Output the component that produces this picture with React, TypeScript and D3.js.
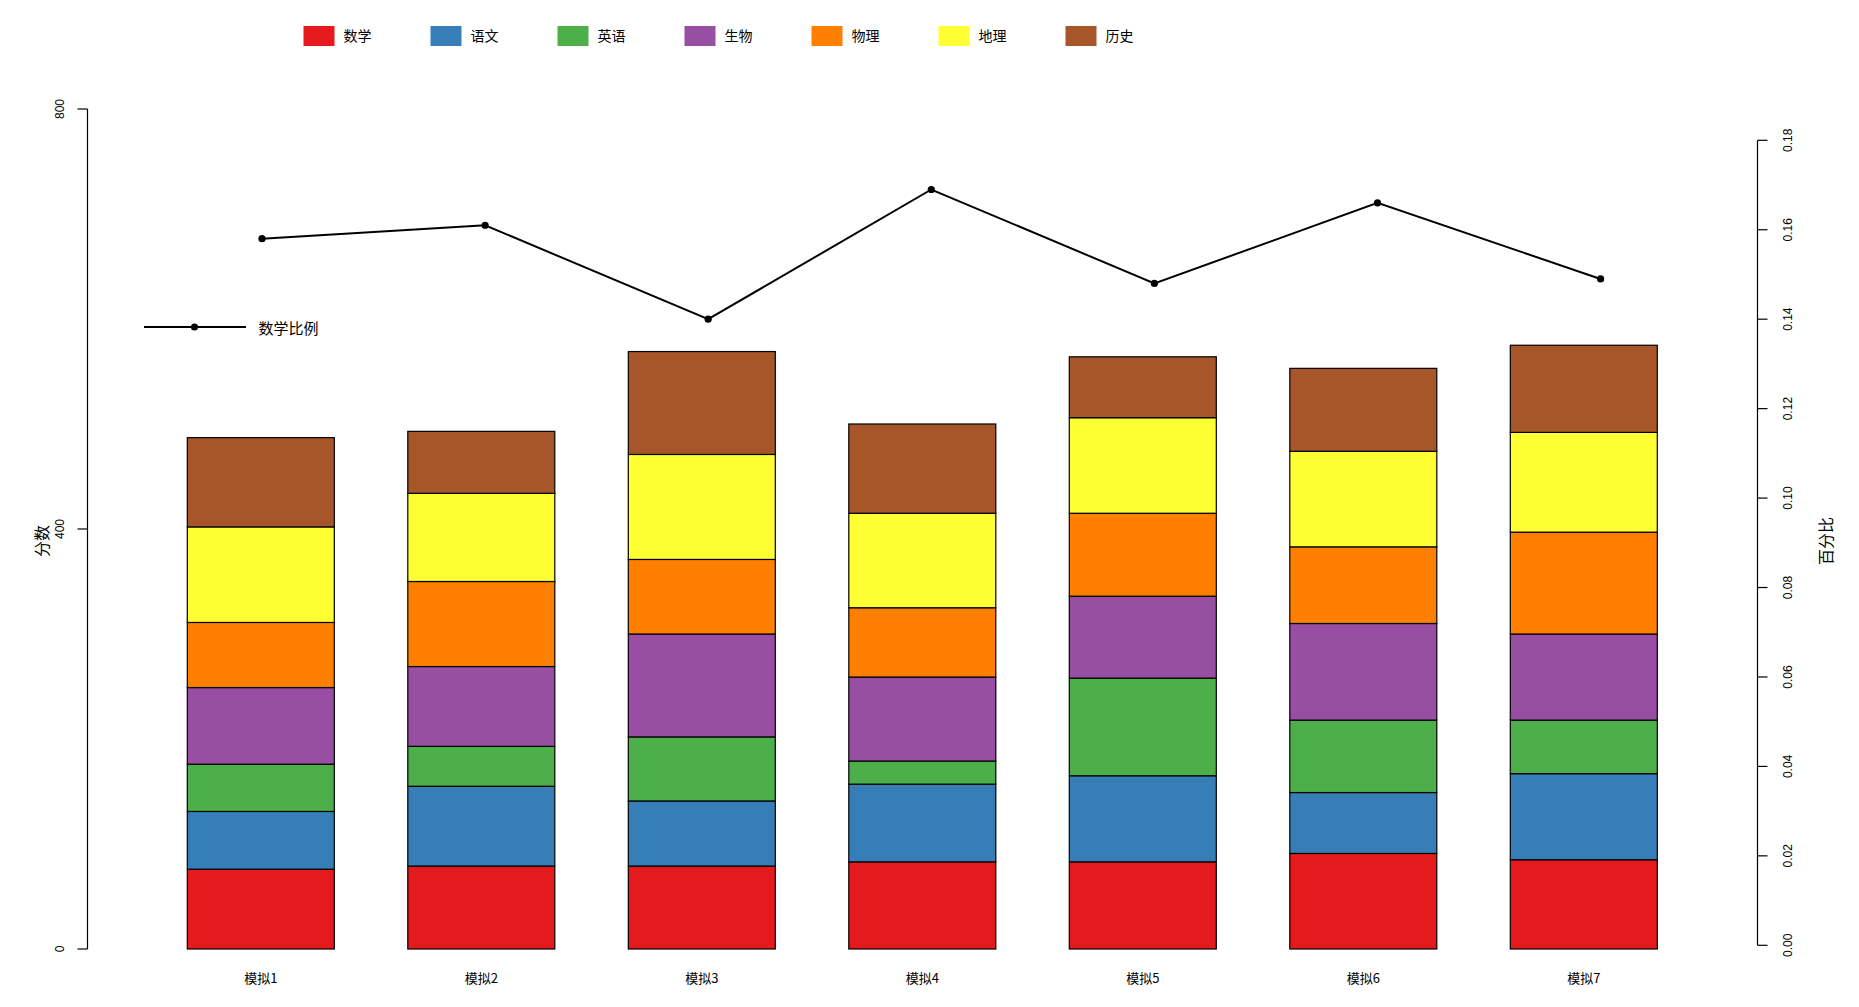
import React from "react";
import * as d3 from "d3";

const categories = ["模拟1", "模拟2", "模拟3", "模拟4", "模拟5", "模拟6", "模拟7"];
const subjects = ["数学", "语文", "英语", "生物", "物理", "地理", "历史"];
const colors = ["#E41A1C", "#377EB8", "#4DAF4A", "#984EA3", "#FF7F00", "#FFFF33", "#A65628"];

const math = [76, 79, 79, 83, 83, 91, 85];
const chinese = [55, 76, 62, 74, 82, 58, 82];
const english = [45, 38, 61, 22, 93, 69, 51];
const biology = [73, 76, 98, 80, 78, 92, 82];
const physics = [62, 81, 71, 66, 79, 73, 97];
const geography = [91, 84, 100, 90, 91, 91, 95];
const history = [85, 59, 98, 85, 58, 79, 83];

const mathRatio = [0.158, 0.161, 0.140, 0.169, 0.148, 0.166, 0.149];

const leftTicks = [0, 400, 800];
const rightTicks = [0, 0.02, 0.04, 0.06, 0.08, 0.1, 0.12, 0.14, 0.16, 0.18];

const seriesValues = [math, chinese, english, biology, physics, geography, history];

const FONT = "'Liberation Sans', 'Noto Sans CJK SC', sans-serif";
const CJK = "'Noto Sans CJK SC', 'Liberation Sans', sans-serif";

export default function App() {
  const W = 1859, H = 1007;
  const rows = categories.map((c, i) => {
    const r: any = { cat: c };
    subjects.forEach((s, j) => (r[s] = seriesValues[j][i]));
    return r;
  });
  const stacked = d3.stack<any>().keys(subjects)(rows);

  const yL = d3.scaleLinear().domain([0, 800]).range([949, 109]);
  const yR = d3.scaleLinear().domain([0, 0.18]).range([945.3, 140.3]);
  const xBar = d3.scaleLinear().domain([0, 6]).range([260.8, 1583.8]);
  const barW = 147;
  const xLine = d3.scaleLinear().domain([1, 7]).range([262, 1600.6]);

  const linePath = d3
    .line<number>()
    .x((_, i) => xLine(i + 1))
    .y((d) => yR(d))(mathRatio) as string;

  const axL = 87.5, axR = 1757.5;
  const legendX = d3.scaleLinear().domain([0, 6]).range([303.5, 1065.5]);

  return (
    <svg width={W} height={H} style={{ position: "absolute", left: 0, top: 0, background: "#fff" }}>
      <rect x={0} y={0} width={W} height={H} fill="#fff" />
      {/* legend */}
      {subjects.map((s, i) => (
        <g key={s}>
          <rect x={legendX(i)} y={26} width={31} height={20} fill={colors[i]} />
          <text x={legendX(i) + 40} y={35} dominantBaseline="central" fontSize={14} fontFamily={CJK} fill="#000">
            {s}
          </text>
        </g>
      ))}
      {/* bars */}
      {stacked.map((layer, j) => (
        <g key={layer.key}>
          {layer.map((d, i) => (
            <rect
              key={i}
              x={xBar(i) - barW / 2}
              y={yL(d[1])}
              width={barW}
              height={yL(d[0]) - yL(d[1])}
              fill={colors[j]}
              stroke="#000"
              strokeWidth={1.2}
            />
          ))}
        </g>
      ))}
      {/* x labels */}
      {categories.map((c, i) => (
        <text key={c} x={xBar(i)} y={977} textAnchor="middle" dominantBaseline="central" fontSize={13} fontFamily={CJK}>
          {c}
        </text>
      ))}
      {/* left axis */}
      <line x1={axL} x2={axL} y1={yL(800)} y2={yL(0)} stroke="#000" strokeWidth={1.2} />
      {leftTicks.map((t) => (
        <g key={t}>
          <line x1={axL - 10} x2={axL} y1={yL(t)} y2={yL(t)} stroke="#000" strokeWidth={1.2} />
          <text
            transform={`translate(60,${yL(t)}) rotate(-90)`}
            textAnchor="middle"
            dominantBaseline="central"
            fontSize={12}
            fontFamily={FONT}
          >
            {t}
          </text>
        </g>
      ))}
      <text transform={`translate(41,541) rotate(-90)`} textAnchor="middle" dominantBaseline="central" fontSize={16} fontFamily={CJK}>
        分数
      </text>
      {/* right axis */}
      <line x1={axR} x2={axR} y1={yR(0.18)} y2={yR(0)} stroke="#000" strokeWidth={1.2} />
      {rightTicks.map((t) => (
        <g key={t}>
          <line x1={axR} x2={axR + 10} y1={yR(t)} y2={yR(t)} stroke="#000" strokeWidth={1.2} />
          <text
            transform={`translate(1788,${yR(t)}) rotate(-90)`}
            textAnchor="middle"
            dominantBaseline="central"
            fontSize={12}
            fontFamily={FONT}
          >
            {t.toFixed(2)}
          </text>
        </g>
      ))}
      <text transform={`translate(1825,541) rotate(-90)`} textAnchor="middle" dominantBaseline="central" fontSize={16} fontFamily={CJK}>
        百分比
      </text>
      {/* line */}
      <path d={linePath} fill="none" stroke="#000" strokeWidth={2} />
      {mathRatio.map((v, i) => (
        <circle key={i} cx={xLine(i + 1)} cy={yR(v)} r={3.6} fill="#000" />
      ))}
      {/* line legend */}
      <line x1={144} x2={246} y1={327} y2={327} stroke="#000" strokeWidth={2} />
      <circle cx={194.5} cy={327} r={3.6} fill="#000" />
      <text x={258.5} y={327} dominantBaseline="central" fontSize={15} fontFamily={CJK}>
        数学比例
      </text>
    </svg>
  );
}
